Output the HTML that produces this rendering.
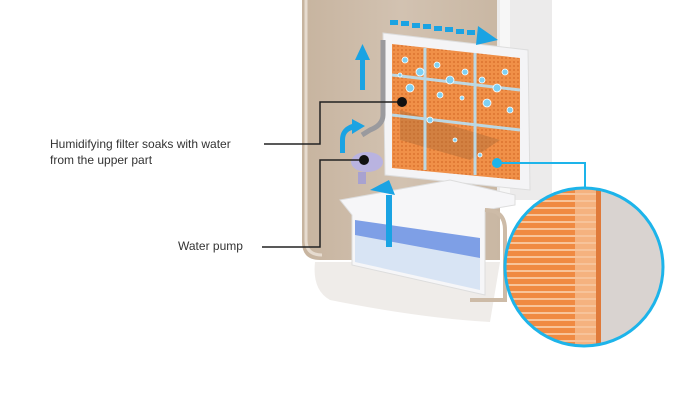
<!DOCTYPE html>
<html><head><style>body{margin:0;background:#fff}svg{display:block}text{font-family:"Liberation Sans",sans-serif;font-size:12px;fill:#333}</style></head>
<body>
<svg width="680" height="420" viewBox="0 0 680 420">
<defs>
<pattern id="mesh" width="4" height="4" patternUnits="userSpaceOnUse"><rect width="4" height="4" fill="#f09048"/><circle cx="2" cy="2" r="1" fill="#dc7430"/></pattern>
<pattern id="fib" width="10" height="7" patternUnits="userSpaceOnUse"><rect width="10" height="7" fill="#f08a42"/><rect y="4" width="10" height="2" fill="#f8c49a"/></pattern>
<linearGradient id="bg" x1="0" x2="1"><stop offset="0" stop-color="#c7b49f"/><stop offset=".5" stop-color="#d2c2b1"/><stop offset="1" stop-color="#c9b7a3"/></linearGradient>
<clipPath id="cc"><circle cx="584" cy="267" r="79"/></clipPath>
</defs>
<path d="M302 0 H500 V260 H320 Q302 260 302 242 Z" fill="url(#bg)"/>
<path d="M306 0 V240 Q306 255 322 255" fill="none" stroke="#e6dbcf" stroke-width="3"/>
<rect x="497" y="0" width="55" height="200" fill="#ecebeb"/>
<rect x="500" y="0" width="10" height="200" fill="#f7f7f7"/>
<path d="M315 262 H500 L490 322 Q420 318 330 300 Q312 290 315 262Z" fill="#efece9"/>
<path d="M383 33 L528 50 L530 190 L385 175 Z" fill="#f4f4f6" stroke="#ddd"/>
<path d="M392 44 L520 58 L520 180 L392 168 Z" fill="url(#mesh)"/>
<path d="M400 110 L500 140 L470 160 L400 140Z" fill="#a56a36" opacity=".4"/>
<g stroke="#b8e0f4" stroke-width="3" opacity=".9"><line x1="392" y1="75" x2="520" y2="90"/><line x1="392" y1="115" x2="520" y2="130"/><line x1="425" y1="48" x2="425" y2="170"/><line x1="475" y1="53" x2="475" y2="175"/></g>
<g fill="#7fd0f2" stroke="#fff" stroke-width=".8">
<circle cx="405" cy="60" r="3"/><circle cx="420" cy="72" r="4"/><circle cx="437" cy="65" r="3"/><circle cx="450" cy="80" r="4"/><circle cx="465" cy="72" r="3"/><circle cx="482" cy="80" r="3"/><circle cx="497" cy="88" r="4"/><circle cx="410" cy="88" r="4"/><circle cx="440" cy="95" r="3"/><circle cx="462" cy="98" r="2"/><circle cx="487" cy="103" r="4"/><circle cx="505" cy="72" r="3"/><circle cx="430" cy="120" r="3"/><circle cx="455" cy="140" r="2"/><circle cx="480" cy="155" r="2"/><circle cx="400" cy="75" r="2"/><circle cx="510" cy="110" r="3"/></g>
<path d="M340 200 L450 180 L515 195 L515 205 L485 210 L485 295 L352 265 L352 215 Z" fill="#f6f6f8" stroke="#ddd"/>
<path d="M355 220 L480 238 L480 262 L355 252Z" fill="#7e9fe6"/>
<path d="M355 235 L480 258 L480 290 L355 262Z" fill="#d8e4f4"/>
<path d="M485 210 Q505 210 505 230 V300 L470 300" fill="none" stroke="#cdbba7" stroke-width="4"/>
<path d="M383 40 V115 Q383 125 370 130 L362 135" fill="none" stroke="#9a9a9e" stroke-width="5"/>
<ellipse cx="367" cy="162" rx="16" ry="10" fill="#b9b3e0"/>
<rect x="358" y="172" width="8" height="12" fill="#a8a2d0"/>
<g fill="#1aa3e3">
<rect x="360" y="58" width="5" height="32"/><polygon points="355,60 370,60 362.5,44"/>
<path d="M340 153 V140 Q340 128 352 124 L352 119 L365 126 L352 134 L352 130 Q345 132 345 140 V153Z"/>
<rect x="386" y="195" width="6" height="52"/><path d="M370 190 L389 180 L395 195Z"/>
<g><rect x="390" y="20" width="8" height="5"/><rect x="401" y="21" width="8" height="5"/><rect x="412" y="23" width="8" height="5"/><rect x="423" y="24" width="8" height="5"/><rect x="434" y="26" width="8" height="5"/><rect x="445" y="27" width="8" height="5"/><rect x="456" y="29" width="8" height="5"/><rect x="467" y="30" width="8" height="5"/></g>
<polygon points="478,26 498,40 476,45"/>
</g>
<path d="M264 144 H320 V102 H402" fill="none" stroke="#222" stroke-width="1.5"/>
<circle cx="402" cy="102" r="5" fill="#111"/>
<path d="M262 247 H320 V160 H364" fill="none" stroke="#222" stroke-width="1.5"/>
<circle cx="364" cy="160" r="5" fill="#111"/>
<text x="50" y="148">Humidifying filter soaks with water</text>
<text x="50" y="164">from the upper part</text>
<text x="178" y="250">Water pump</text>
<path d="M497 163 H585 V190" fill="none" stroke="#1db4ea" stroke-width="2"/>
<circle cx="497" cy="163" r="5" fill="#1db4ea"/>
<g clip-path="url(#cc)">
<rect x="500" y="185" width="170" height="170" fill="#d9d3d0"/>
<rect x="500" y="185" width="98" height="170" fill="url(#fib)"/>
<rect x="575" y="185" width="22" height="170" fill="#f7c39a" opacity=".7"/>
<rect x="596" y="185" width="5" height="170" fill="#e07a3a"/>
</g>
<circle cx="584" cy="267" r="79" fill="none" stroke="#1db4ea" stroke-width="3"/>
</svg>
</body></html>
